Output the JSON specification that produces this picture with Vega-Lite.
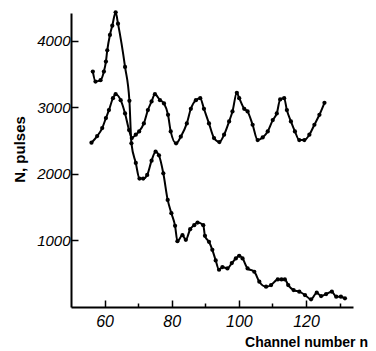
{
  "$schema": "https://vega.github.io/schema/vega-lite/v6.json",
  "width": 282,
  "height": 294,
  "autosize": {"type": "none"},
  "padding": {"left": 71, "top": 13, "right": 23, "bottom": 44},
  "config": {
    "view": {"stroke": null, "fill": null},
    "axis": {"grid": false, "zindex": 1, "domainColor": "black", "domainWidth": 2, "labelColor": "black", "titleColor": "black", "labelFontStyle": "italic"}
  },
  "data": {"values": [
    {"series": "A", "n": 56.5, "N": 3540}, {"series": "A", "n": 57.3, "N": 3390}, {"series": "A", "n": 58.8, "N": 3410}, {"series": "A", "n": 59.8, "N": 3540}, {"series": "A", "n": 60.4, "N": 3690}, {"series": "A", "n": 60.8, "N": 3860}, {"series": "A", "n": 61.6, "N": 4090}, {"series": "A", "n": 62.3, "N": 4230}, {"series": "A", "n": 63.3, "N": 4430}, {"series": "A", "n": 64.0, "N": 4260}, {"series": "A", "n": 66.1, "N": 3610}, {"series": "A", "n": 67.4, "N": 3100}, {"series": "A", "n": 68.0, "N": 2460}, {"series": "A", "n": 69.3, "N": 2165}, {"series": "A", "n": 70.4, "N": 1930}, {"series": "A", "n": 71.5, "N": 1930}, {"series": "A", "n": 72.7, "N": 1985}, {"series": "A", "n": 74.0, "N": 2200}, {"series": "A", "n": 75.2, "N": 2335}, {"series": "A", "n": 76.2, "N": 2280}, {"series": "A", "n": 77.5, "N": 2010}, {"series": "A", "n": 78.8, "N": 1610}, {"series": "A", "n": 79.9, "N": 1410}, {"series": "A", "n": 81.0, "N": 1220}, {"series": "A", "n": 81.7, "N": 990}, {"series": "A", "n": 83.2, "N": 1080}, {"series": "A", "n": 84.2, "N": 1010}, {"series": "A", "n": 85.5, "N": 1170}, {"series": "A", "n": 86.7, "N": 1230}, {"series": "A", "n": 87.7, "N": 1270}, {"series": "A", "n": 89.4, "N": 1230}, {"series": "A", "n": 89.9, "N": 1070}, {"series": "A", "n": 91.1, "N": 980}, {"series": "A", "n": 92.1, "N": 860}, {"series": "A", "n": 93.1, "N": 700}, {"series": "A", "n": 94.1, "N": 560}, {"series": "A", "n": 95.1, "N": 600}, {"series": "A", "n": 96.6, "N": 580}, {"series": "A", "n": 97.9, "N": 660}, {"series": "A", "n": 99.1, "N": 730}, {"series": "A", "n": 100.1, "N": 770}, {"series": "A", "n": 101.1, "N": 730}, {"series": "A", "n": 102.6, "N": 580}, {"series": "A", "n": 104.6, "N": 530}, {"series": "A", "n": 106.1, "N": 380}, {"series": "A", "n": 108.1, "N": 305}, {"series": "A", "n": 109.6, "N": 330}, {"series": "A", "n": 111.6, "N": 415}, {"series": "A", "n": 112.7, "N": 415}, {"series": "A", "n": 113.7, "N": 415}, {"series": "A", "n": 114.7, "N": 330}, {"series": "A", "n": 116.3, "N": 255}, {"series": "A", "n": 118.0, "N": 230}, {"series": "A", "n": 119.7, "N": 180}, {"series": "A", "n": 121.5, "N": 115}, {"series": "A", "n": 123.2, "N": 215}, {"series": "A", "n": 124.5, "N": 165}, {"series": "A", "n": 126.0, "N": 195}, {"series": "A", "n": 127.7, "N": 230}, {"series": "A", "n": 129.0, "N": 155}, {"series": "A", "n": 130.4, "N": 155}, {"series": "A", "n": 131.6, "N": 130},
    {"series": "B", "n": 56.1, "N": 2470}, {"series": "B", "n": 57.8, "N": 2570}, {"series": "B", "n": 59.3, "N": 2690}, {"series": "B", "n": 60.4, "N": 2840}, {"series": "B", "n": 61.3, "N": 2960}, {"series": "B", "n": 62.5, "N": 3140}, {"series": "B", "n": 63.3, "N": 3200}, {"series": "B", "n": 64.8, "N": 3110}, {"series": "B", "n": 66.1, "N": 2910}, {"series": "B", "n": 67.3, "N": 2660}, {"series": "B", "n": 68.1, "N": 2540}, {"series": "B", "n": 69.3, "N": 2590}, {"series": "B", "n": 70.3, "N": 2640}, {"series": "B", "n": 71.7, "N": 2760}, {"series": "B", "n": 72.9, "N": 2960}, {"series": "B", "n": 74.0, "N": 3090}, {"series": "B", "n": 75.0, "N": 3200}, {"series": "B", "n": 76.5, "N": 3110}, {"series": "B", "n": 77.7, "N": 3060}, {"series": "B", "n": 78.9, "N": 2890}, {"series": "B", "n": 79.7, "N": 2640}, {"series": "B", "n": 81.3, "N": 2460}, {"series": "B", "n": 82.7, "N": 2560}, {"series": "B", "n": 84.5, "N": 2760}, {"series": "B", "n": 85.7, "N": 2980}, {"series": "B", "n": 87.2, "N": 3110}, {"series": "B", "n": 88.5, "N": 3140}, {"series": "B", "n": 89.6, "N": 2980}, {"series": "B", "n": 91.1, "N": 2760}, {"series": "B", "n": 92.6, "N": 2540}, {"series": "B", "n": 94.2, "N": 2480}, {"series": "B", "n": 95.6, "N": 2590}, {"series": "B", "n": 97.1, "N": 2790}, {"series": "B", "n": 98.1, "N": 2940}, {"series": "B", "n": 99.4, "N": 3220}, {"series": "B", "n": 100.1, "N": 3140}, {"series": "B", "n": 101.6, "N": 2980}, {"series": "B", "n": 102.6, "N": 2940}, {"series": "B", "n": 104.1, "N": 2740}, {"series": "B", "n": 105.6, "N": 2510}, {"series": "B", "n": 107.1, "N": 2550}, {"series": "B", "n": 108.6, "N": 2640}, {"series": "B", "n": 110.1, "N": 2810}, {"series": "B", "n": 111.3, "N": 2910}, {"series": "B", "n": 112.3, "N": 3120}, {"series": "B", "n": 113.5, "N": 3140}, {"series": "B", "n": 114.3, "N": 2960}, {"series": "B", "n": 115.5, "N": 2790}, {"series": "B", "n": 116.7, "N": 2640}, {"series": "B", "n": 118.0, "N": 2510}, {"series": "B", "n": 119.5, "N": 2510}, {"series": "B", "n": 121.0, "N": 2590}, {"series": "B", "n": 122.5, "N": 2740}, {"series": "B", "n": 124.0, "N": 2890}, {"series": "B", "n": 125.5, "N": 3070}
  ]},
  "encoding": {
    "x": {"field": "n", "type": "quantitative", "scale": {"domain": [50, 134], "nice": false, "zero": false},
      "axis": {"values": [60, 70, 80, 90, 100, 110, 120, 130], "format": "d", "labelExpr": "datum.value % 20 === 0 ? datum.label : ''",
        "ticks": true, "tickColor": "#000000", "tickOpacity": 1, "tickWidth": 1.5,
        "tickSize": {"condition": {"test": "datum.value % 20 === 0", "value": -7}, "value": -4},
        "labelFont": "Liberation Sans", "labelFontStyle": "italic", "labelFontSize": 16, "labelPadding": 13,
        "title": "Channel number n", "titleFont": "Liberation Sans", "titleFontSize": 14, "titleFontWeight": "bold",
        "titleX": 235, "titleY": 35, "titleAlign": "center", "titleBaseline": "middle"}},
    "y": {"field": "N", "type": "quantitative", "scale": {"domain": [0, 4420], "nice": false},
      "axis": {"values": [1000, 2000, 3000, 4000], "format": "d", "ticks": true, "tickColor": "#000000", "tickOpacity": 1, "tickWidth": 1.5, "tickSize": -7,
        "labelFont": "Liberation Sans", "labelFontStyle": "italic", "labelFontSize": 15, "labelPadding": 8,
        "title": "N, pulses", "titleFont": "Liberation Sans", "titleFontSize": 15, "titleFontWeight": "bold",
        "titleX": -52, "titleY": 136, "titleAlign": "center", "titleBaseline": "middle", "titleAngle": -90}},
    "detail": {"field": "series"}
  },
  "layer": [
    {"mark": {"type": "line", "interpolate": "monotone", "color": "black", "strokeWidth": 2}},
    {"mark": {"type": "point", "filled": true, "color": "black", "size": 18, "opacity": 1}}
  ]
}
